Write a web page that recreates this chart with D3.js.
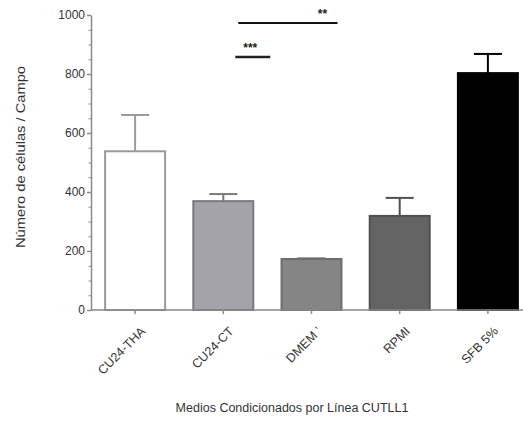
<!DOCTYPE html>
<html>
<head>
<meta charset="utf-8">
<script src="https://cdn.jsdelivr.net/npm/d3@7"></script>
<style>
  body { margin: 0; background: #fff; }
  svg { display: block; }
  text { font-family: "Liberation Sans", Arial, sans-serif; }
</style>
</head>
<body>
<svg id="chart" width="523" height="421"></svg>
<script>
// Cell counts per field for each conditioned medium
const categories = ["CU24-THA", "CU24-CT", "DMEM \u2019", "RPMI", "SFB 5%"];
const means = [538, 369, 173, 319, 803];
const errTops = [661, 393, 175, 380, 868];
const fills = ["#ffffff", "#a4a4a8", "#858585", "#636363", "#000000"];
const strokes = ["#9a9a9a", "#7a7a7a", "#6e6e6e", "#505050", "#000000"];
const yTicks = [0, 200, 400, 600, 800, 1000];
const yMinorTicks = d3.range(0, 1001, 50);

// Significance levels (y value of each bracket) and their star labels
const sigLevels = [973, 858];
const sigLabels = ["**", "***"];

const svg = d3.select("#chart");
const x0 = 91, x1 = 532, yTop = 15, yBottom = 310;

const x = d3.scaleBand()
  .domain(categories)
  .range([x0, x1])
  .paddingInner(0.32)
  .paddingOuter(0.16);

const y = d3.scaleLinear().domain([0, 1000]).range([yBottom, yTop]);

const axisColor = "#8a8a8a";

// Bars
svg.append("g").selectAll("rect")
  .data(categories)
  .enter().append("rect")
  .attr("x", (d) => x(d))
  .attr("y", (d, i) => y(means[i]))
  .attr("width", x.bandwidth())
  .attr("height", (d, i) => yBottom - y(means[i]))
  .attr("fill", (d, i) => fills[i])
  .attr("stroke", (d, i) => strokes[i])
  .attr("stroke-width", 2);

// Upper error bars
const eb = svg.append("g");
categories.forEach((c, i) => {
  const cx = x(c) + x.bandwidth() / 2;
  eb.append("line")
    .attr("x1", cx).attr("x2", cx)
    .attr("y1", y(means[i])).attr("y2", y(errTops[i]))
    .attr("stroke", strokes[i]).attr("stroke-width", 2);
  eb.append("line")
    .attr("x1", cx - 14).attr("x2", cx + 14)
    .attr("y1", y(errTops[i])).attr("y2", y(errTops[i]))
    .attr("stroke", strokes[i]).attr("stroke-width", 2);
});

// Y axis with minor ticks
const yMinor = svg.append("g").attr("transform", `translate(${x0},0)`)
  .call(d3.axisLeft(y).tickValues(yMinorTicks).tickSize(2.5).tickFormat(""));
yMinor.select(".domain").remove();
yMinor.selectAll("line").attr("stroke", axisColor).attr("stroke-width", 1);

const yAxis = svg.append("g").attr("transform", `translate(${x0},0)`)
  .call(d3.axisLeft(y).tickValues(yTicks).tickFormat(d3.format("d"))
    .tickSize(4).tickPadding(2).tickSizeOuter(0));
yAxis.select(".domain").attr("stroke", axisColor).attr("stroke-width", 1.5);
yAxis.selectAll(".tick line").attr("stroke", axisColor).attr("stroke-width", 1.5);
yAxis.selectAll(".tick text")
  .attr("fill", "#333").style("font-size", "12px")
  .style("font-family", "'Liberation Sans', Arial, sans-serif");

// X axis
svg.append("line")
  .attr("x1", x0).attr("x2", 523)
  .attr("y1", yBottom).attr("y2", yBottom)
  .attr("stroke", axisColor).attr("stroke-width", 1.5);

const xAxis = svg.append("g").attr("transform", `translate(0,${yBottom})`)
  .call(d3.axisBottom(x).tickSize(4).tickSizeOuter(0));
xAxis.select(".domain").remove();
xAxis.selectAll(".tick line").attr("stroke", axisColor).attr("stroke-width", 1.5);
xAxis.selectAll(".tick text")
  .attr("fill", "#333")
  .style("font-size", "12.5px")
  .style("font-family", "'Liberation Sans', Arial, sans-serif")
  .attr("text-anchor", "end")
  .attr("y", 0)
  .attr("dy", 0)
  .attr("transform", "translate(11,22) rotate(-45)");

// Significance markers
const sig = svg.append("g");
const cCT = x(categories[1]) + x.bandwidth() / 2;
const cDM = x(categories[2]) + x.bandwidth() / 2;
// long bracket
sig.append("line")
  .attr("x1", cCT + 15).attr("x2", cDM + 26)
  .attr("y1", y(sigLevels[0])).attr("y2", y(sigLevels[0]))
  .attr("stroke", "#111").attr("stroke-width", 2);
sig.append("text")
  .attr("x", cDM + 11).attr("y", y(sigLevels[0]) - 5)
  .attr("text-anchor", "middle")
  .style("font-size", "12px").style("font-weight", "bold").attr("fill", "#222")
  .text(sigLabels[0]);
// short bracket
sig.append("line")
  .attr("x1", cCT + 12).attr("x2", cCT + 47)
  .attr("y1", y(sigLevels[1])).attr("y2", y(sigLevels[1]))
  .attr("stroke", "#222").attr("stroke-width", 2.5);
sig.append("text")
  .attr("x", cCT + 27).attr("y", y(sigLevels[1]) - 5)
  .attr("text-anchor", "middle")
  .style("font-size", "12px").style("font-weight", "bold").attr("fill", "#222")
  .text(sigLabels[1]);

// Axis titles
svg.append("text")
  .attr("transform", "translate(25,157) rotate(-90)")
  .attr("text-anchor", "middle")
  .attr("fill", "#333")
  .style("font-size", "13px")
  .attr("textLength", 182)
  .attr("lengthAdjust", "spacingAndGlyphs")
  .text("Número de células / Campo");

svg.append("text")
  .attr("x", 292).attr("y", 412)
  .attr("text-anchor", "middle")
  .attr("fill", "#333")
  .style("font-size", "12.5px")
  .text("Medios Condicionados por Línea CUTLL1");
</script>
</body>
</html>
